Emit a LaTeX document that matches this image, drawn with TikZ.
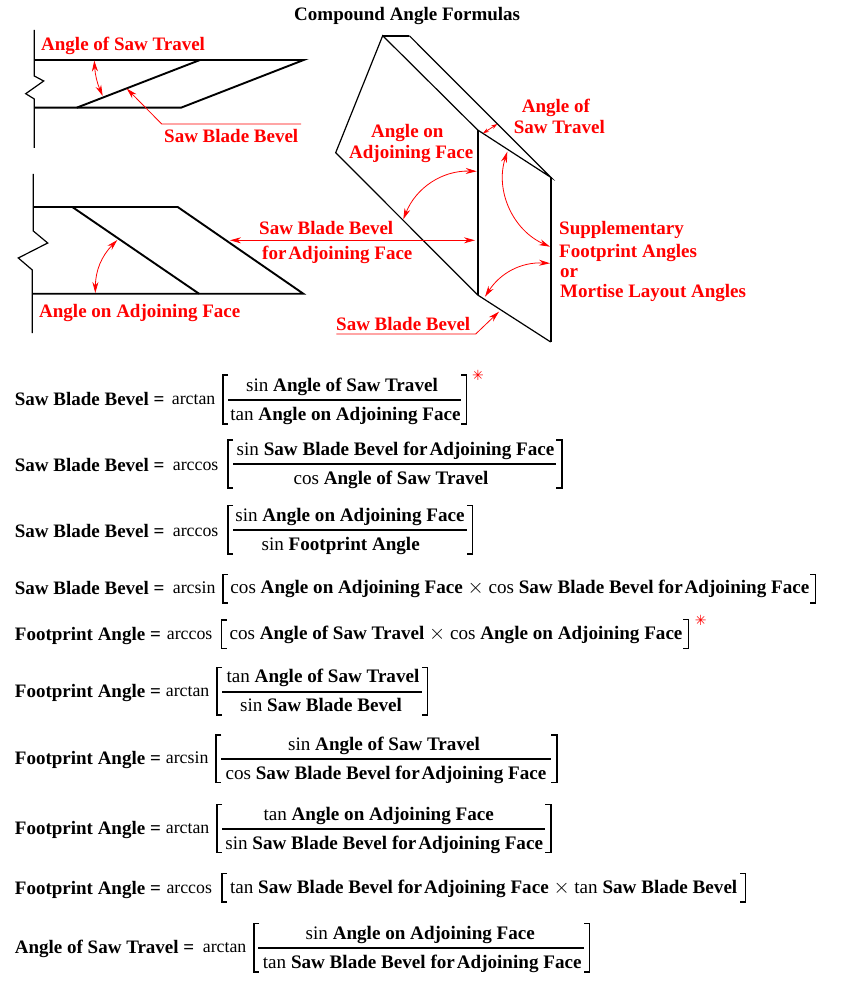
\documentclass[tikz,border=0pt]{standalone}
\usepackage{fontspec}
\setmainfont{Liberation Serif}
\newfontfamily\symfont{DejaVu Sans}
\usetikzlibrary{arrows.meta}
\tikzset{
    heavy/.style={line width=1.9pt},
    light/.style={line width=1.2pt},
    redline/.style={red, line width=0.8pt},
    twoway/.style={redline, {Stealth[length=11pt,width=6pt]}-{Stealth[length=11pt,width=6pt]}},
    oneway/.style={redline, -{Stealth[length=11pt,width=6pt]}},
    lbl/.style={anchor=base west, inner sep=0pt, red, font=\fontsize{19}{22}\selectfont\bfseries},
    lhs/.style={anchor=base west, inner sep=0pt, font=\fontsize{19}{22}\selectfont\bfseries},
    fn/.style={anchor=base west, inner sep=0pt, font=\fontsize{17.8}{22}\selectfont},
    term/.style={anchor=base, inner sep=0pt, font=\fontsize{19.1}{22}\selectfont},
    star/.style={inner sep=0pt, red, font=\fontsize{14}{14}\selectfont\symfont},
    rule/.style={line width=1.8pt},
    bracket/.style={line width=1.6pt}
}
\newcommand{\bb}[1]{\textbf{#1}}
\newcommand{\bevelface}{\textbf{Saw Blade Bevel {\spaceskip=.1em for Adjoining} Face}}
\begin{document}
\begin{tikzpicture}[x=1pt, y=-1pt]
    \useasboundingbox (0,0) rectangle (840,1000);
    \node[lhs] (title) at (294,20.5) {Compound Angle Formulas};

    % upper left view
    \draw[light] (34.3,30) -- (34.3,76) -- (43.7,81) -- (25.7,93.7) -- (34.3,99) -- (34.3,148);
    \draw[heavy] (34.3,60) -- (303.7,60) -- (181,107.7) -- (34.3,107.7);
    \draw[heavy] (76.7,107.7) -- (200,60);
    \draw[twoway] (94.3,60.5) to[bend right=10] (102.7,96);
    \draw[oneway] (301,124) -- (161.7,124) -- (126.7,88.5);
    \node[lbl] (travelA) at (41,51) {Angle of Saw Travel};
    \node[lbl] (bevelA) at (164,143) {Saw Blade Bevel};

    % lower left view
    \draw[light] (33.3,174) -- (33.3,231) -- (47.7,243) -- (18.3,258) -- (32.3,270) -- (32.3,333);
    \draw[heavy] (33.3,207) -- (177.7,207) -- (303.3,293.7) -- (32.3,293.7);
    \draw[heavy] (72.3,207) -- (199,293.7);
    \draw[twoway] (117.3,240) to[bend right=22] (95.3,293);
    \node[lbl] (faceA) at (39,317) {Angle on Adjoining Face};

    % right view
    \coordinate (topL) at (382.7,35.7);
    \coordinate (topR) at (409.3,35.7);
    \coordinate (left) at (335.7,152.7);
    \coordinate (inU) at (477.7,130);
    \coordinate (inD) at (477.7,295);
    \coordinate (outU) at (550.7,177.3);
    \coordinate (outD) at (550.7,342);
    \draw[heavy] (topL) -- (topR);
    \draw[light] (topR) -- (outU) -- (inU) -- (topL) -- (left) -- (inD) -- (outD);
    \draw[heavy] (inU) -- (inD);
    \draw[heavy] (outU) -- (outD);
    \draw[redline, {Stealth[length=6pt,width=4pt]}-{Stealth[length=6pt,width=4pt]}] (483,133.3) -- (497.3,124);
    \draw[twoway] (476.7,171.3) to[bend right=35] (403.3,219.3);
    \draw[twoway] (507.3,151.7) to[bend right=42] (550,246.7);
    \draw[twoway] (550,263.3) to[bend right=30] (485,296.7);
    \draw[twoway] (230,240.3) -- (475,240.3);
    \draw[oneway] (336.3,334) -- (475.7,334) -- (499,311.7);

    \node[lbl] (faceB) at (371,138) {Angle on};
    \node[lbl] (faceC) at (349,159) {Adjoining Face};
    \node[lbl] (travelB) at (521.7,113) {Angle of};
    \node[lbl] (travelC) at (513.7,134) {Saw Travel};
    \node[lbl] (bevelB) at (259,235) {Saw Blade Bevel};
    \node[lbl] (bevelC) at (262,259) {{\spaceskip=.1em for Adjoining} Face};
    \node[lbl] (footA) at (559,235) {Supplementary};
    \node[lbl] (footB) at (559,257) {Footprint Angles};
    \node[lbl] (footC) at (560,277) {or};
    \node[lbl] (footD) at (560,297) {Mortise Layout Angles};
    \node[lbl] (bevelD) at (336,330) {Saw Blade Bevel};

    % formula 1
    \node[lhs] (lhsA) at (14.7,405.3) {Saw Blade Bevel =};
    \node[fn] (fnA) at (171.7,404.3) {arctan};
    \draw[bracket] (228,375) -- (222.7,375) -- (222.7,424) -- (228,424);
    \draw[rule] (228,399.7) -- (460.7,399.7);
    \draw[bracket] (461,375) -- (466.3,375) -- (466.3,424) -- (461,424);
    \node[term] (numA) at (342,391) {sin \bb{Angle of Saw Travel}};
    \node[term] (denA) at (345.5,420) {tan \bb{Angle on Adjoining Face}};
    \node[star] (starA) at (478,375.7) {✳};

    % formula 2
    \node[lhs] (lhsB) at (14.7,471.3) {Saw Blade Bevel =};
    \node[fn] (fnB) at (172.7,470.3) {arccos};
    \draw[bracket] (233,439.7) -- (227.7,439.7) -- (227.7,487.7) -- (233,487.7);
    \draw[rule] (233,464) -- (556,464);
    \draw[bracket] (556.4,439.7) -- (561.7,439.7) -- (561.7,487.7) -- (556.4,487.7);
    \node[term] (numB) at (395.5,455) {sin \bevelface};
    \node[term] (denB) at (391,484) {cos \bb{Angle of Saw Travel}};

    % formula 3
    \node[lhs] (lhsC) at (14.7,537.3) {Saw Blade Bevel =};
    \node[fn] (fnC) at (172.7,536.3) {arccos};
    \draw[bracket] (233,505.3) -- (227.7,505.3) -- (227.7,553.7) -- (233,553.7);
    \draw[rule] (233,530) -- (467,530);
    \draw[bracket] (467,505.3) -- (472.3,505.3) -- (472.3,553.7) -- (467,553.7);
    \node[term] (numC) at (350,521) {sin \bb{Angle on Adjoining Face}};
    \node[term] (denC) at (340.7,550) {sin \bb{Footprint Angle}};

    % formula 4
    \node[lhs] (lhsD) at (14.7,594.7) {Saw Blade Bevel =};
    \node[fn] (fnD) at (172.7,593.7) {arcsin};
    \draw[bracket] (228,574.3) -- (222.7,574.3) -- (222.7,602.7) -- (228,602.7);
    \node[term] (midD) at (519.9,593.7) {cos \bb{Angle on Adjoining Face} $\times$ cos \bevelface};
    \draw[bracket] (810,574.3) -- (815.3,574.3) -- (815.3,602.7) -- (810,602.7);

    % formula 5
    \node[lhs] (lhsE) at (14.7,640.7) {Footprint Angle =};
    \node[fn] (fnE) at (166.7,639.7) {arccos};
    \draw[bracket] (226.6,620) -- (221.3,620) -- (221.3,648.3) -- (226.6,648.3);
    \node[term] (midE) at (456,639.7) {cos \bb{Angle of Saw Travel} $\times$ cos \bb{Angle on Adjoining Face}};
    \draw[bracket] (683,619.5) -- (688.3,619.5) -- (688.3,648.3) -- (683,648.3);
    \node[star] (starE) at (700.7,620) {✳};

    % formula 6
    \node[lhs] (lhsF) at (14.7,697) {Footprint Angle =};
    \node[fn] (fnF) at (165.7,696) {arctan};
    \draw[bracket] (222,667.3) -- (216.7,667.3) -- (216.7,715) -- (222,715);
    \draw[rule] (222.3,691.7) -- (421.7,691.7);
    \draw[bracket] (422,667.3) -- (427.3,667.3) -- (427.3,715) -- (422,715);
    \node[term] (numF) at (323,682.7) {tan \bb{Angle of Saw Travel}};
    \node[term] (denF) at (321,711.7) {sin \bb{Saw Blade Bevel}};

    % formula 7
    \node[lhs] (lhsG) at (14.7,764) {Footprint Angle =};
    \node[fn] (fnG) at (165.7,763) {arcsin};
    \draw[bracket] (221.3,734.7) -- (216,734.7) -- (216,782.3) -- (221.3,782.3);
    \draw[rule] (221,759) -- (550.7,759);
    \draw[bracket] (551.4,734.7) -- (556.7,734.7) -- (556.7,782.3) -- (551.4,782.3);
    \node[term] (numG) at (384,750) {sin \bb{Angle of Saw Travel}};
    \node[term] (denG) at (386,779) {cos \bevelface};

    % formula 8
    \node[lhs] (lhsH) at (14.7,834.3) {Footprint Angle =};
    \node[fn] (fnH) at (165.7,833.3) {arctan};
    \draw[bracket] (222,804.3) -- (216.7,804.3) -- (216.7,852.3) -- (222,852.3);
    \draw[rule] (222.3,829) -- (545,829);
    \draw[bracket] (545.4,804.3) -- (550.7,804.3) -- (550.7,852.3) -- (545.4,852.3);
    \node[term] (numH) at (378.7,820) {tan \bb{Angle on Adjoining Face}};
    \node[term] (denH) at (384.2,849) {sin \bevelface};

    % formula 9
    \node[lhs] (lhsI) at (14.7,894.3) {Footprint Angle =};
    \node[fn] (fnI) at (166.3,893.3) {arccos};
    \draw[bracket] (227,873.3) -- (221.7,873.3) -- (221.7,901.7) -- (227,901.7);
    \node[term] (midI) at (483.7,893.3) {tan \bevelface{} $\times$ tan \bb{Saw Blade Bevel}};
    \draw[bracket] (740,873.3) -- (745.3,873.3) -- (745.3,901.7) -- (740,901.7);

    % formula 10
    \node[lhs] (lhsJ) at (14.7,953.7) {Angle of Saw Travel =};
    \node[fn] (fnJ) at (202.7,952.7) {arctan};
    \draw[bracket] (259.3,923.3) -- (254,923.3) -- (254,971.7) -- (259.3,971.7);
    \draw[rule] (258.3,947.7) -- (584,947.7);
    \draw[bracket] (584,923.3) -- (589.3,923.3) -- (589.3,971.7) -- (584,971.7);
    \node[term] (numJ) at (420.3,939.3) {sin \bb{Angle on Adjoining Face}};
    \node[term] (denJ) at (422.2,968.3) {tan \bevelface};
\end{tikzpicture}
\end{document}
